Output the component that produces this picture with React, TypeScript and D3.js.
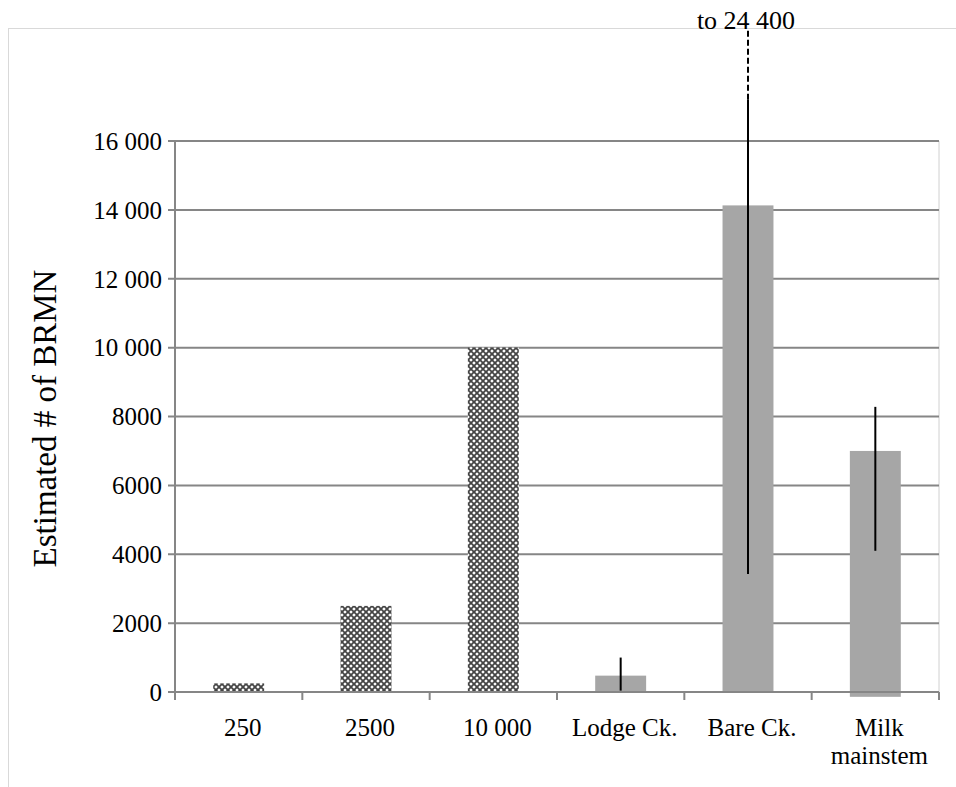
import * as d3 from 'd3'

const categories = ['250', '2500', '10 000', 'Lodge Ck.', 'Bare Ck.', 'Milk mainstem']
const barValues = [250, 2500, 10000, 475, 14130, 7000]
const barBase = [0, 0, 0, 0, 0, -140]
const patterned = [true, true, true, false, false, false]
// error ranges (low, high); null when no error bar
const errLow = [null, null, null, 40, 3430, 4100]
const errHigh = [null, null, null, 1000, 17200, 8280]
const dashedTo = [null, null, null, null, 24400, null]
const yTicks = [0, 2000, 4000, 6000, 8000, 10000, 12000, 14000, 16000]
const tickLabels = ['0', '2000', '4000', '6000', '8000', '10 000', '12 000', '14 000', '16 000']

const W = 956
const H = 787
const left = 175
const right = 939
const top = 141
const bottom = 692

function App() {
    const x = d3.scaleBand().domain(categories).range([left, right]).paddingInner(0.6).paddingOuter(0.3)
    const y = d3.scaleLinear().domain([0, 16000]).range([bottom, top])
    const step = x.step()
    const font = '"Liberation Serif", "Times New Roman", serif'

    return (
        <svg width={W} height={H} style={{ position: 'absolute', left: 0, top: 0, background: '#fff' }}>
            <defs>
                <pattern id="lattice" width="6" height="6" patternUnits="userSpaceOnUse">
                    <rect width="6" height="6" fill="#fff" />
                    <path d="M0,0 L6,6 M6,0 L0,6" stroke="#444" strokeWidth="1.8" />
                </pattern>
            </defs>
            {/* outer frame */}
            <rect x={8.5} y={28.5} width={W} height={H} fill="none" stroke="#d9d9d9" />
            {/* plot right border */}
            <line x1={right} x2={right} y1={top} y2={bottom} stroke="#d0d0d0" />
            {/* gridlines */}
            {yTicks.slice(1).map((t) => (
                <line key={t} x1={left - 7} x2={right} y1={y(t)} y2={y(t)} stroke="#868686" strokeWidth={2} />
            ))}
            {/* bars */}
            {categories.map((c, i) => (
                <rect
                    key={c}
                    x={x(c)}
                    width={x.bandwidth()}
                    y={y(barValues[i])}
                    height={y(barBase[i]) - y(barValues[i])}
                    fill={patterned[i] ? 'url(#lattice)' : '#a6a6a6'}
                />
            ))}
            {/* axes */}
            <line x1={left} x2={left} y1={top} y2={bottom} stroke="#868686" strokeWidth={2} />
            <line x1={left - 7} x2={right} y1={bottom} y2={bottom} stroke="#868686" strokeWidth={2} />
            {d3.range(categories.length + 1).map((k) => (
                <line
                    key={k}
                    x1={left + k * step}
                    x2={left + k * step}
                    y1={bottom}
                    y2={bottom + 8}
                    stroke="#868686"
                    strokeWidth={2}
                />
            ))}
            {/* error bars */}
            {categories.map((c, i) => {
                if (errLow[i] == null) return null
                const cx = (x(c) as number) + x.bandwidth() / 2
                return (
                    <g key={c}>
                        <line x1={cx} x2={cx} y1={y(errLow[i] as number)} y2={y(errHigh[i] as number)} stroke="#000" strokeWidth={2} />
                        {dashedTo[i] != null && (
                            <line
                                x1={cx}
                                x2={cx}
                                y1={y(errHigh[i] as number)}
                                y2={30}
                                stroke="#000"
                                strokeWidth={2}
                                strokeDasharray="6,3"
                            />
                        )}
                    </g>
                )
            })}
            {categories.map((c, i) =>
                dashedTo[i] != null ? (
                    <text
                        key={c}
                        x={(x(c) as number) + x.bandwidth() / 2 - 2}
                        y={29}
                        textAnchor="middle"
                        fontFamily={font}
                        fontSize={26}
                    >
                        {'to ' + d3.format(',')(dashedTo[i] as number).replace(',', ' ')}
                    </text>
                ) : null
            )}
            {/* y tick labels */}
            {yTicks.map((t, i) => (
                <text key={t} x={162} y={y(t)} dy="0.35em" textAnchor="end" fontFamily={font} fontSize={25}>
                    {tickLabels[i]}
                </text>
            ))}
            {/* x labels */}
            {categories.map((c) => {
                const cx = (x(c) as number) + x.bandwidth() / 2 + 4
                const words = c === 'Milk mainstem' ? ['Milk', 'mainstem'] : [c]
                return (
                    <text key={c} x={cx} y={736} textAnchor="middle" fontFamily={font} fontSize={25}>
                        {words.map((w, j) => (
                            <tspan key={w} x={cx} dy={j === 0 ? 0 : 28}>
                                {w}
                            </tspan>
                        ))}
                    </text>
                )
            })}
            <text
                transform={`translate(56, ${(top + bottom) / 2 + 2}) rotate(-90)`}
                textAnchor="middle"
                fontFamily={font}
                fontSize={33}
            >
                Estimated # of BRMN
            </text>
        </svg>
    )
}

export default App
